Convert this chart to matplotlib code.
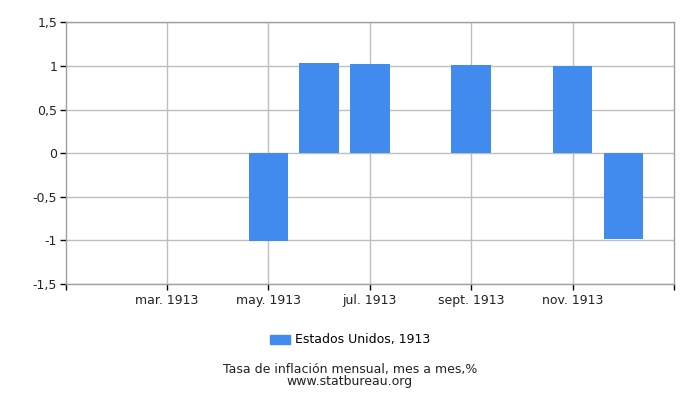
import matplotlib
matplotlib.use("Agg")
import matplotlib.pyplot as plt
from matplotlib.patches import Patch

# Data
months = ["ene.", "feb.", "mar.", "abr.", "may.", "jun.", "jul.", "ago.", "sept.", "oct.", "nov.", "dic."]
bar_months = [4, 5, 6, 8, 10, 11]  # month index (0 = enero)
values = [-1.01, 1.035, 1.02, 1.01, 1.0, -0.98]
tick_positions = [2, 4, 6, 8, 10]
tick_labels = ["mar. 1913", "may. 1913", "jul. 1913", "sept. 1913", "nov. 1913"]
y_ticks = [-1.5, -1, -0.5, 0, 0.5, 1, 1.5]
y_tick_labels = ["-1,5", "-1", "-0,5", "0", "0,5", "1", "1,5"]
series_name = "Estados Unidos, 1913"
title = "Tasa de inflación mensual, mes a mes,%"
source = "www.statbureau.org"

bar_color = "#428BEE"
grid_color = "#BEBEBE"
spine_color = "#A0A0A0"

plt.rcParams['font.family'] = ['DejaVu Sans']
fig = plt.figure(figsize=(7, 4), dpi=100)
ax = fig.add_axes([65.5/700, 1-284/400, (674-65.5)/700, (284-22.5)/400])

ax.bar(bar_months, values, width=0.78, color=bar_color, zorder=3)

ax.set_xlim(0, 12)
ax.set_ylim(-1.5, 1.5)
ax.set_yticks(y_ticks)
ax.set_yticklabels(y_tick_labels, fontsize=9)
ax.set_xticks([0] + tick_positions + [12])
ax.set_xticklabels([""] + tick_labels + [""], fontsize=9)

for t in tick_positions:
    ax.axvline(t, color=grid_color, lw=1, zorder=1)
for y in y_ticks:
    ax.axhline(y, color=grid_color, lw=1, zorder=1)

for s in ax.spines.values():
    s.set_color(spine_color)
    s.set_linewidth(1)
ax.tick_params(axis='both', direction='out', length=4, width=1, color='black', labelcolor='#222222')
ax.tick_params(axis='x', pad=3)
ax.tick_params(axis='y', pad=2)

handle = Patch(color=bar_color, label=series_name)
fig.legend(handles=[handle], loc='center', bbox_to_anchor=(350/700, 1-340/400),
           frameon=False, fontsize=9, handlelength=1.6, handleheight=0.7, handletextpad=0.4)
fig.text(0.5, 1-370/400, title, ha='center', va='center', fontsize=9, color='#222222')
fig.text(0.5, 1-382/400, source, ha='center', va='center', fontsize=9, color='#222222')

fig.savefig("out.png", dpi=100)
